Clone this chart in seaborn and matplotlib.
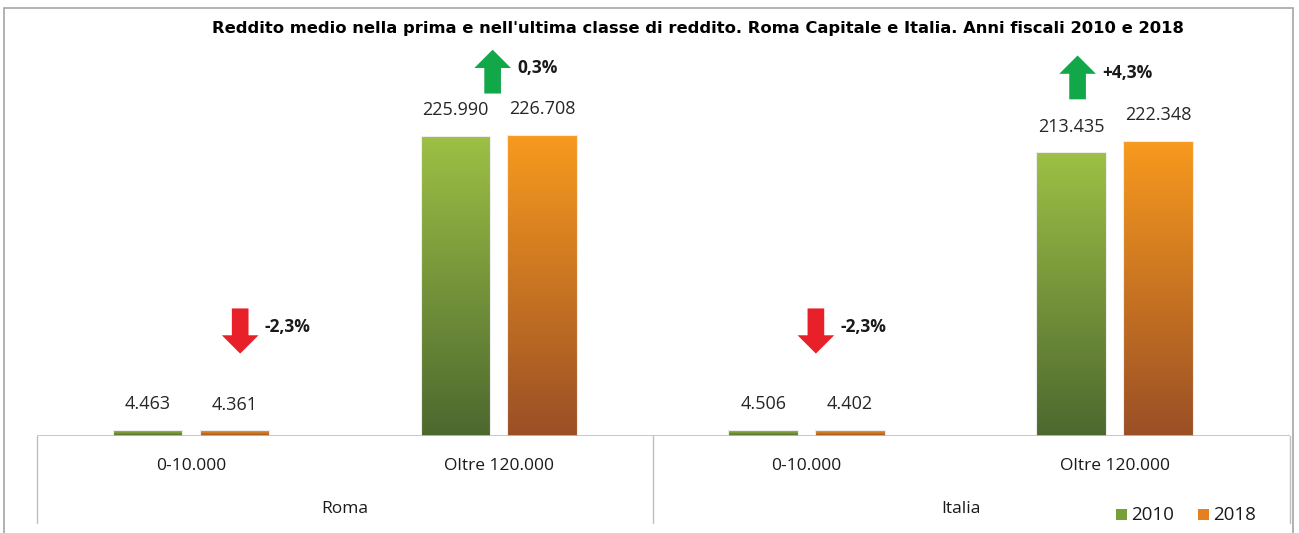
import numpy as np
import pandas as pd
import matplotlib
matplotlib.use("Agg")
import matplotlib.pyplot as plt
from matplotlib.colors import LinearSegmentedColormap
from matplotlib.patches import Rectangle
import seaborn as sns

# ── data ──────────────────────────────────────────────────────────────────────
territori = ["Roma", "Roma", "Italia", "Italia"]
classi    = ["0-10.000", "Oltre 120.000", "0-10.000", "Oltre 120.000"]
anni      = ["2010", "2018"]
redd_2010 = [4463, 225990, 4506, 213435]
redd_2018 = [4361, 226708, 4402, 222348]
variaz    = ["-2,3%", "0,3%", "-2,3%", "+4,3%"]

title = ("Reddito medio nella prima e nell'ultima classe di reddito. "
         "Roma Capitale e Italia. Anni fiscali 2010 e 2018")

# ── style ─────────────────────────────────────────────────────────────────────
sns.set_theme(style="white")
plt.rcParams['font.family'] = ['Open Sans', 'DejaVu Sans']

keys = [f"{t}|{c}" for t, c in zip(territori, classi)]
df = pd.DataFrame({
    "key":    keys * 2,
    "anno":   ["2010"] * 4 + ["2018"] * 4,
    "valore": redd_2010 + redd_2018,
})

# (top colour, bottom colour, legend colour)
grad = {
    "2010": ("#9DC045", "#4D682F", "#76A035"),
    "2018": ("#F89A1E", "#9A4F26", "#E57F1F"),
}

W, H = 1299, 533
fig = plt.figure(figsize=(W / 100, H / 100), dpi=100)
ax = fig.add_axes([37 / W, (H - 436) / H, (1290 - 37) / W, (436 - 40) / H])

sns.barplot(data=df, x="key", y="valore", hue="anno", order=keys,
            hue_order=anni, palette=[grad[a][0] for a in anni],
            width=0.565, gap=0.2, legend=False, ax=ax)

# gradient fill for every bar (one container per year)
bars = []
for cont, anno in zip(ax.containers, anni):
    cmap = LinearSegmentedColormap.from_list(anno, [grad[anno][1], grad[anno][0]])
    for p in cont.patches:
        x0, y0 = p.get_x(), p.get_y()
        w, h = p.get_width(), p.get_height()
        im = ax.imshow(np.linspace(0, 1, 256).reshape(-1, 1), cmap=cmap, origin="lower",
                       aspect="auto", extent=(x0, x0 + w, y0, y0 + h), zorder=2)
        im.set_clip_path(p)
        p.set_edgecolor("#EDEDED")
        p.set_linewidth(0.8)
        p.set_zorder(3)
        p.set_facecolor("none")
        bars.append(p)
ax.set_xlim(-0.5, 3.57)
ax.set_ylim(0, 298000)

# value labels
for p in bars:
    val = int(round(p.get_height()))
    lab = f"{val:,}".replace(",", ".")
    ax.annotate(lab, (p.get_x() + p.get_width() / 2, p.get_height()),
                xytext=(0, 12), textcoords="offset points", ha="center",
                va="bottom", fontsize=13, color="#262626")

# change arrows
arrow_dx = [0.16, -0.02, 0.03, -0.12]
for i, txt in enumerate(variaz):
    top = max(redd_2010[i], redd_2018[i])
    xa = i + arrow_dx[i]
    if txt.startswith("-"):
        y_tail, y_tip, col = 96000, 62000, "#E8202A"
    else:
        y_tail, y_tip, col = top + 31000, top + 64000, "#12A84A"
    ax.annotate("", xy=(xa, y_tip), xytext=(xa, y_tail),
                arrowprops=dict(arrowstyle="simple,head_length=0.55,head_width=1.1,tail_width=0.5",
                                color=col, lw=0, shrinkA=0, shrinkB=0,
                                mutation_scale=24))
    ax.text(xa + 0.08, (y_tail + y_tip) / 2 + 3000, txt, fontsize=12.5,
            fontweight="bold", color="#1a1a1a", va="center", ha="left")

# axis: base line, category labels, dividers
sns.despine(ax=ax, left=True, bottom=True, top=True, right=True)
ax.set_xticks([])
ax.set_yticks([])
ax.set_xlabel("")
ax.set_ylabel("")
ax.axhline(0, color="#BFBFBF", lw=1.2, zorder=4)
for xd in [-0.5, 1.5, 3.57]:
    ax.plot([xd, xd], [0, -0.22], transform=ax.get_xaxis_transform(),
            color="#BFBFBF", lw=1, clip_on=False)
for i, c in enumerate(classi):
    ax.text(i, -0.075, c, transform=ax.get_xaxis_transform(), ha="center",
            va="center", fontsize=12.5, color="#1a1a1a")
for xg, t in [(0.5, "Roma"), (2.5, "Italia")]:
    ax.text(xg, -0.185, t, transform=ax.get_xaxis_transform(), ha="center",
            va="center", fontsize=12.5, color="#1a1a1a")

# legend
for j, a in enumerate(anni):
    lx = (1116 + j * 82) / W
    fig.patches.append(Rectangle((lx, 13 / H), 11 / W, 11 / H,
                                 transform=fig.transFigure,
                                 facecolor=grad[a][2], edgecolor="none"))
    fig.text(lx + 15 / W, 18 / H, a, fontsize=13.5, va="center",
             ha="left", color="#1a1a1a")

# title + outer frame
fig.text(698 / W, (H - 28) / H, title, ha="center", va="center",
         fontsize=11.8, fontweight="bold", color="#000000",
         family=['Liberation Sans Narrow', 'DejaVu Sans'])
fig.patches.append(Rectangle((4 / W, -0.05), (1293 - 4) / W, (H - 8) / H + 0.05,
                             transform=fig.transFigure, fill=False,
                             edgecolor="#A6A6A6", lw=1.2))

fig.savefig("out.png", dpi=100)
